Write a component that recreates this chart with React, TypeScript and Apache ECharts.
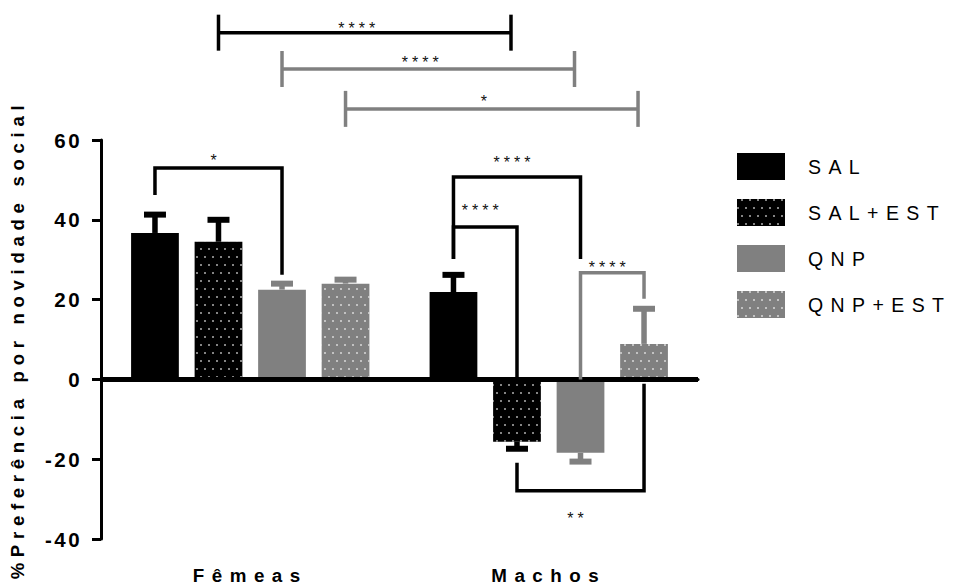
import React, { useEffect, useRef } from "react";
import * as echarts from "echarts";

// Sexes on the category axis and the four treatment groups
const categories = ["Fêmeas", "Machos"];
const groups = ["SAL", "SAL+EST", "QNP", "QNP+EST"];

// Mean % preference for social novelty, [Fêmeas, Machos]
const salMean = [36.7, 21.9];
const salEstMean = [34.5, -15.6];
const qnpMean = [22.5, -18.4];
const qnpEstMean = [24.0, 8.9];

// Standard error of the mean, [Fêmeas, Machos]
const salSem = [4.6, 4.3];
const salEstSem = [5.5, 1.8];
const qnpSem = [1.5, 2.2];
const qnpEstSem = [1.0, 8.8];

// y axis ticks
const yMin = -40;
const yMax = 60;
const yStep = 20;

// Significance brackets between two bars ([category, group] each),
// with the bracket level, the lower ends of both legs and the star label
const pairBrackets = [
  { a: [0, 0], b: [0, 2], level: 53.0, aEnd: 46.2, bEnd: 26.2, label: "*", labelAt: 56.0, grey: false },
  { a: [1, 0], b: [1, 2], level: 50.7, aEnd: 30.2, bEnd: 30.2, label: "****", labelAt: 55.5, grey: false },
  { a: [1, 0], b: [1, 1], level: 38.2, aEnd: 30.2, bEnd: -0.1, label: "****", labelAt: 43.5, grey: false },
  { a: [1, 2], b: [1, 3], level: 26.7, aEnd: 0.0, bEnd: 20.2, label: "****", labelAt: 29.2, grey: true },
  { a: [1, 1], b: [1, 3], level: -27.9, aEnd: -20.9, bEnd: -1.1, label: "**", labelAt: -33.7, grey: false },
];

// Comparisons of the same group across sexes (drawn above the plot)
const spanBrackets = [
  { a: [0, 1], b: [1, 1], level: 86.9, label: "****", labelAt: 89.1, grey: false },
  { a: [0, 2], b: [1, 2], level: 77.8, label: "****", labelAt: 80.6, grey: true },
  { a: [0, 3], b: [1, 3], level: 67.8, label: "*", labelAt: 70.8, grey: true },
];

const BLACK = "#000000";
const GREY = "#808080";
const groupColors = [BLACK, BLACK, GREY, GREY];
const groupDotted = [false, true, false, true];
const means = [salMean, salEstMean, qnpMean, qnpEstMean];
const sems = [salSem, salEstSem, qnpSem, qnpEstSem];

const BAR_FRACTION = 0.16;
const BAR_GAP = 0.33;
const FONT = "Arial, 'Liberation Sans', sans-serif";

// x pixel of the centre of a given bar
function barX(api: any, cat: number, g: number): number {
  const centre = api.coord([cat, 0])[0];
  const band = api.size([1, 0])[0];
  const w = band * BAR_FRACTION;
  const step = w * (1 + BAR_GAP);
  return centre + (g - 1.5) * step;
}

const dotDecal = {
  symbol: "rect",
  symbolSize: 0.75,
  color: "rgba(255,255,255,0.92)",
  dashArrayX: [
    [2, 6],
    [0, 4, 2, 2],
  ],
  dashArrayY: [2, 6],
  rotation: 0,
};

export default function App() {
  const ref = useRef<HTMLDivElement>(null);

  useEffect(() => {
    if (!ref.current) return;
    const chart = echarts.init(ref.current, undefined, { renderer: "svg" });

    const barSeries = groups.map((name, g) => ({
      name,
      type: "bar",
      data: means[g],
      barWidth: `${BAR_FRACTION * 100}%`,
      barGap: `${BAR_GAP * 100}%`,
      itemStyle: {
        color: groupColors[g],
        decal: groupDotted[g] ? dotDecal : undefined,
      },
      z: 2,
      ...(g === 0
        ? {
            markLine: {
              silent: true,
              symbol: ["none", "none"],
              label: { show: false },
              lineStyle: { color: BLACK, width: 5, type: "solid" },
              data: [{ yAxis: 0 }],
              z: 5,
            },
          }
        : {}),
    }));

    // one item per bar: [category, mean, group, end of error bar]
    const errData: number[][] = [];
    groups.forEach((_, g) => {
      categories.forEach((__, c) => {
        const m = means[g][c];
        const end = m >= 0 ? m + sems[g][c] : m - sems[g][c];
        errData.push([c, m, g, end]);
      });
    });

    const errorSeries = {
      type: "custom",
      name: "sem",
      coordinateSystem: "cartesian2d",
      silent: true,
      z: 3,
      data: errData,
      renderItem: (params: any, api: any) => {
        const [c, m, g, end] = errData[params.dataIndex];
        const x = barX(api, c, g);
        const y0 = api.coord([c, m])[1];
        const y1 = api.coord([c, end])[1];
        const color = groupColors[g];
        return {
          type: "group",
          children: [
            {
              type: "rect",
              shape: { x: x - 2.75, y: Math.min(y0, y1), width: 5.5, height: Math.abs(y1 - y0) },
              style: { fill: color },
            },
            {
              type: "rect",
              shape: { x: x - 11, y: y1 - 3, width: 22, height: 6 },
              style: { fill: color },
            },
          ],
        };
      },
    };

    const starText = (x: number, y: number, label: string) => ({
      type: "text",
      x,
      y: y + 4.5,
      style: {
        text: label,
        fill: "#111111",
        fontSize: 16,
        fontFamily: FONT,
        align: "center",
        verticalAlign: "middle",
      },
    });

    const pairSeries = {
      type: "custom",
      name: "pairs",
      coordinateSystem: "cartesian2d",
      silent: true,
      clip: false,
      z: 6,
      data: pairBrackets.map((b) => [b.a[0], b.level]),
      renderItem: (params: any, api: any) => {
        const b = pairBrackets[params.dataIndex];
        const xa = barX(api, b.a[0], b.a[1]);
        const xb = barX(api, b.b[0], b.b[1]);
        const yl = api.coord([0, b.level])[1];
        const ya = api.coord([0, b.aEnd])[1];
        const yb = api.coord([0, b.bEnd])[1];
        const yt = api.coord([0, b.labelAt])[1];
        return {
          type: "group",
          children: [
            {
              type: "polyline",
              shape: { points: [[xa, ya], [xa, yl], [xb, yl], [xb, yb]] },
              style: { stroke: b.grey ? GREY : BLACK, lineWidth: 3.5, fill: null, lineJoin: "miter" },
            },
            starText((xa + xb) / 2 - 3, yt, b.label),
          ],
        };
      },
    };

    const spanSeries = {
      type: "custom",
      name: "spans",
      coordinateSystem: "cartesian2d",
      silent: true,
      clip: false,
      z: 6,
      data: spanBrackets.map((b) => [b.a[0], yMax]),
      renderItem: (params: any, api: any) => {
        const b = spanBrackets[params.dataIndex];
        const xa = barX(api, b.a[0], b.a[1]);
        const xb = barX(api, b.b[0], b.b[1]) - 6;
        const yl = api.coord([0, b.level])[1];
        const yt = api.coord([0, b.labelAt])[1];
        const stroke = b.grey ? GREY : BLACK;
        const half = 18;
        return {
          type: "group",
          children: [
            {
              type: "line",
              shape: { x1: xa, y1: yl, x2: xb, y2: yl },
              style: { stroke, lineWidth: 3.5 },
            },
            {
              type: "line",
              shape: { x1: xa, y1: yl - half, x2: xa, y2: yl + half },
              style: { stroke, lineWidth: 3.5 },
            },
            {
              type: "line",
              shape: { x1: xb, y1: yl - half, x2: xb, y2: yl + half },
              style: { stroke, lineWidth: 3.5 },
            },
            starText((xa + xb) / 2 - 6, yt, b.label),
          ],
        };
      },
    };

    chart.setOption({
      animation: false,
      backgroundColor: "#ffffff",
      grid: { left: 92, right: 255, top: 140, bottom: 46, containLabel: false },
      legend: {
        orient: "vertical",
        left: 732,
        top: 148,
        itemWidth: 48,
        itemHeight: 27,
        itemGap: 19,
        icon: "rect",
        data: groups,
        selectedMode: false,
        textStyle: {
          fontSize: 19.5,
          fontFamily: FONT,
          color: "#000000",
          padding: [0, 0, 0, 18],
        },
      },
      xAxis: {
        type: "category",
        data: categories,
        axisLine: { lineStyle: { color: BLACK, width: 3 } },
        axisTick: { alignWithLabel: true, length: 9, lineStyle: { color: BLACK, width: 3.5 } },
        axisLabel: {
          margin: 27,
          fontSize: 18.8,
          fontWeight: "bold",
          fontFamily: FONT,
          color: BLACK,
        },
      },
      yAxis: {
        type: "value",
        min: yMin,
        max: yMax,
        interval: yStep,
        name: "%Preferência por novidade social",
        nameLocation: "middle",
        nameGap: 74,
        nameRotate: 90,
        nameTextStyle: {
          fontSize: 18.5,
          fontWeight: "bold",
          fontFamily: FONT,
          color: BLACK,
        },
        axisLine: { show: true, lineStyle: { color: BLACK, width: 3 } },
        axisTick: { show: true, length: 9, lineStyle: { color: BLACK, width: 3 } },
        splitLine: { show: false },
        axisLabel: {
          margin: 19,
          fontSize: 20.5,
          fontWeight: "bold",
          fontFamily: FONT,
          color: BLACK,
        },
      },
      series: [...barSeries, errorSeries, pairSeries, spanSeries],
    });

    return () => chart.dispose();
  }, []);

  return (
    <>
      <style>{`
        #pref-chart text { letter-spacing: 0.25em; }
        #pref-chart text[style*="20.5px"] { letter-spacing: 0.12em; }
        #pref-chart text[style*="18.5px"] { letter-spacing: 0.31em; }
        #pref-chart text[style*="18.8px"] { letter-spacing: 0.4em; }
        #pref-chart text[style*="19.5px"] { letter-spacing: 0.38em; }
        #pref-chart text[style*="16px"] { letter-spacing: 0.25em; }
      `}</style>
      <div
        id="pref-chart"
        ref={ref}
        style={{ position: "fixed", left: 0, top: 0, width: 953, height: 585, background: "#fff" }}
      />
    </>
  );
}
